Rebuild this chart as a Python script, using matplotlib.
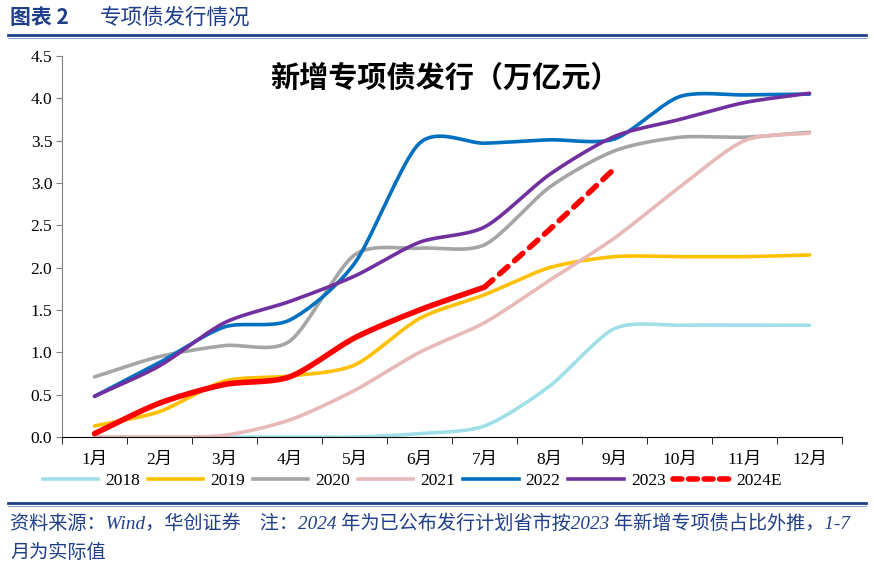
import numpy as np
import matplotlib
matplotlib.use("Agg")
import matplotlib.pyplot as plt
from matplotlib.lines import Line2D

# ---------------- data (万亿元, 累计) ----------------
months = ["1月", "2月", "3月", "4月", "5月", "6月", "7月", "8月", "9月", "10月", "11月", "12月"]
y2018 = [0.0, 0.0, 0.0, 0.0, 0.0, 0.04, 0.13, 0.60, 1.28, 1.32, 1.32, 1.32]
y2019 = [0.13, 0.30, 0.66, 0.72, 0.85, 1.40, 1.68, 2.00, 2.13, 2.13, 2.13, 2.15]
y2020 = [0.71, 0.95, 1.08, 1.13, 2.15, 2.23, 2.27, 2.95, 3.38, 3.54, 3.54, 3.60]
y2021 = [0.0, 0.0, 0.02, 0.20, 0.55, 1.00, 1.35, 1.85, 2.35, 2.95, 3.50, 3.59]
y2022 = [0.48, 0.88, 1.30, 1.38, 2.05, 3.47, 3.47, 3.51, 3.52, 4.02, 4.04, 4.05]
y2023 = [0.48, 0.84, 1.35, 1.60, 1.90, 2.30, 2.48, 3.10, 3.55, 3.75, 3.95, 4.06]
y2024 = [0.04, 0.40, 0.62, 0.71, 1.17, 1.50, 1.77]       # 1-7月实际
y2024e = [1.77, 2.45, 3.17]                              # 7-9月外推

BLUE = "#1F3F8A"
plt.rcParams['font.family'] = ['Liberation Serif', 'Noto Sans CJK SC']


def smooth(xs, ys, n=20, k=0.8):
    # Catmull-Rom (tangents scaled by k), close to Excel's smoothed line
    x = np.asarray(xs, float); y = np.asarray(ys, float)
    if len(x) < 3:
        return x, y
    px = np.concatenate([[2*x[0]-x[1]], x, [2*x[-1]-x[-2]]])
    py = np.concatenate([[2*y[0]-y[1]], y, [2*y[-1]-y[-2]]])
    ox, oy = [], []
    t = np.linspace(0, 1, n, endpoint=False)
    h00 = 2*t**3 - 3*t**2 + 1; h10 = t**3 - 2*t**2 + t
    h01 = -2*t**3 + 3*t**2;    h11 = t**3 - t**2
    for i in range(1, len(px)-2):
        for arr, out in ((px, ox), (py, oy)):
            p0, p1, p2, p3 = arr[i-1], arr[i], arr[i+1], arr[i+2]
            m1 = k*0.5*(p2 - p0); m2 = k*0.5*(p3 - p1)
            out.extend(h00*p1 + h10*m1 + h01*p2 + h11*m2)
    ox.append(x[-1]); oy.append(y[-1])
    return np.array(ox), np.array(oy)


fig = plt.figure(figsize=(8.74, 5.72), dpi=100)
ax = fig.add_axes([62/874, 1-437/572, 780/874, (437-56)/572])

series = [
    ("2018", y2018, "#9FDFE7"),
    ("2019", y2019, "#FFC000"),
    ("2020", y2020, "#A5A5A5"),
    ("2021", y2021, "#E8B9B9"),
    ("2022", y2022, "#0070C0"),
    ("2023", y2023, "#7030A0"),
]
xi = np.arange(len(months))
handles = []
for name, vals, col in series:
    sx, sy = smooth(xi, vals)
    ax.plot(sx, sy, color=col, lw=2.6, solid_capstyle='round')
    handles.append(Line2D([], [], color=col, lw=2.6))

sx, sy = smooth(xi[:len(y2024)], y2024)
ax.plot(sx, sy, color="#FF0000", lw=4, solid_capstyle='round')
sx, sy = smooth(xi[6:6+len(y2024e)], y2024e)
ax.plot(sx, sy, color="#FF0000", lw=4, ls=(0, (2, 1.6)), dash_capstyle='round')
handles.append(Line2D([], [], color="#FF0000", lw=4, ls=(0, (1.6, 1.2)), dash_capstyle='round'))

ax.set_xlim(-0.5, 11.5)
ax.set_ylim(0, 4.5)
ax.set_yticks(np.arange(0, 4.51, 0.5))
ax.set_yticklabels([f"{v:.1f}" for v in np.arange(0, 4.51, 0.5)], fontsize=12.5)
ax.set_xticks(xi)
ax.set_xticklabels(months, fontsize=12.5)
ax.set_xticks(np.arange(-0.5, 12, 1), minor=True)
ax.tick_params(axis='x', which='major', length=0, pad=11)
ax.tick_params(axis='x', which='minor', length=5, color='black', direction='out')
ax.tick_params(axis='y', length=4, color='#808080', direction='out', pad=3)
for s in ("top", "right"):
    ax.spines[s].set_visible(False)
ax.spines["left"].set_color("#808080")
ax.spines["bottom"].set_color("black")

ax.text((445-62)/780, 1-(78-56)/381, "新增专项债发行（万亿元）", transform=ax.transAxes,
        ha='center', va='center', fontsize=21, fontweight='bold', family=['Noto Sans CJK SC'])

ax.legend(handles, ["2018", "2019", "2020", "2021", "2022", "2023", "2024E"],
          loc='center', bbox_to_anchor=((412-62)/780, -(481-437)/381), ncol=7, frameon=False,
          fontsize=12.5, handlelength=3.2, columnspacing=0.45, handletextpad=0.4)

# header and footer
fig.text(10/874, 1-18/572, "图表 2", color=BLUE, fontsize=15, fontweight='bold', va='center',
         family=['Noto Sans CJK SC'])
fig.text(100/874, 1-18/572, "专项债发行情况", color=BLUE, fontsize=15.5, va='center',
         family=['Noto Sans CJK SC'])
fig.add_artist(Line2D([8/874, 866/874], [1-35/572, 1-35/572], color=BLUE, lw=2))
fig.add_artist(Line2D([8/874, 866/874], [1-37.5/572, 1-37.5/572], color="#8FA3CC", lw=0.8))
fig.add_artist(Line2D([8/874, 866/874], [1-503/572, 1-503/572], color=BLUE, lw=2))
fig.add_artist(Line2D([8/874, 866/874], [1-505.5/572, 1-505.5/572], color="#8FA3CC", lw=0.8))

fig.text(10/874, 1-524/572, "资料来源：Wind，华创证券    注：2024 年为已公布发行计划省市按2023 年新增专项债占比外推，1-7",
         color=BLUE, fontsize=13.8, style='italic', va='center')
fig.text(10/874, 1-553/572, "月为实际值", color=BLUE, fontsize=13.8, style='italic', va='center')

fig.savefig("out.png", dpi=100)
